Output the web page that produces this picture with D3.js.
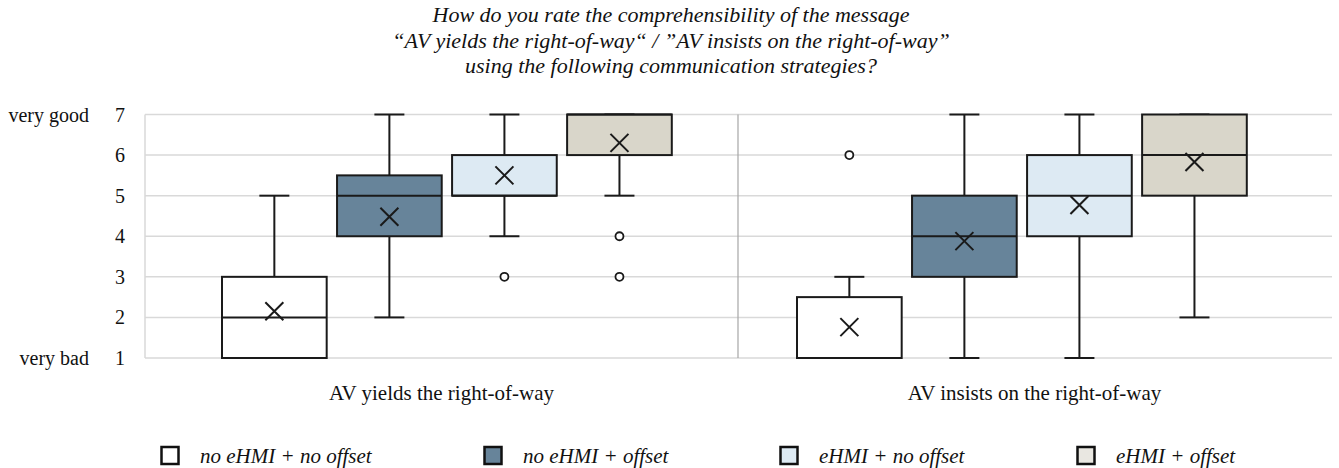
<!DOCTYPE html>
<html lang="en">
<head>
  <meta charset="UTF-8">
  <title>Comprehensibility of the message</title>
  <script src="https://d3js.org/d3.v7.min.js"></script>
  <style>
    body { margin: 0; background: #fff; }
    svg text { font-family: "Liberation Serif", "Times New Roman", serif; fill: #111; }
    .title { font-style: italic; font-size: 22px; }
    .tick-label { font-size: 20px; }
    .group-label { font-size: 21px; }
    .legend-text { font-style: italic; font-size: 21px; }
  </style>
</head>
<body>
  <svg width="1339" height="468"></svg>

  <script>
    // data
    const groups = ["AV yields the right-of-way", "AV insists on the right-of-way"];
    const strategies = ["no eHMI + no offset", "no eHMI + offset", "eHMI + no offset", "eHMI + offset"];
    const colors = ["#ffffff", "#67849a", "#ddeaf3", "#d9d6ca"];
    const legendColors = ["#ffffff", "#67849a", "#ddeaf3", "#e9e7e1"];
    const yTicks = [1, 2, 3, 4, 5, 6, 7];
    const titleLines = [
      "How do you rate the comprehensibility of the message",
      "\u201cAV yields the right-of-way\u201c / \u201dAV insists on the right-of-way\u201d",
      "using the following communication strategies?"
    ];

    // one row per box: [group, strategy, min, q1, median, q3, max, mean]
    const stats = [
      [0, 0, 1, 1, 2, 3, 5, 2.15],
      [0, 1, 2, 4, 5, 5.5, 7, 4.48],
      [0, 2, 4, 5, 5, 6, 7, 5.5],
      [0, 3, 5, 6, 7, 7, 7, 6.3],
      [1, 0, 1, 1, 1, 2.5, 3, 1.76],
      [1, 1, 1, 3, 4, 5, 7, 3.88],
      [1, 2, 1, 4, 5, 6, 7, 4.77],
      [1, 3, 2, 5, 6, 7, 7, 5.83]
    ];
    // outliers: [group, strategy, value]
    const outliers = [
      [0, 2, 3],
      [0, 3, 4],
      [0, 3, 3],
      [1, 0, 6]
    ];

    const svg = d3.select("svg");
    const plot = { left: 145, right: 1332, top: 114.5, bottom: 358 };

    const y = d3.scaleLinear().domain([1, 7]).range([plot.bottom, plot.top]);

    const x0 = d3.scaleBand()
      .domain(d3.range(groups.length))
      .range([plot.left, 1331])
      .padding(0);

    const groupShift = [5.4, -12.6];
    const x1 = g => d3.scaleBand()
      .domain(d3.range(strategies.length))
      .range([x0(g) + 67 + groupShift[g], x0(g) + x0.bandwidth() - 67 + groupShift[g]])
      .paddingInner(0.09)
      .paddingOuter(0.04);

    // grid
    svg.append("g")
      .selectAll("line")
      .data(yTicks)
      .join("line")
        .attr("x1", plot.left)
        .attr("x2", plot.right)
        .attr("y1", d => y(d))
        .attr("y2", d => y(d))
        .attr("stroke", "#d9d9d9")
        .attr("stroke-width", 1.5);

    svg.append("line")
      .attr("x1", plot.left).attr("x2", plot.left)
      .attr("y1", plot.top).attr("y2", plot.bottom)
      .attr("stroke", "#d9d9d9").attr("stroke-width", 1.5);

    svg.append("line")
      .attr("x1", x0(1)).attr("x2", x0(1))
      .attr("y1", plot.top).attr("y2", plot.bottom)
      .attr("stroke", "#a6a6a6").attr("stroke-width", 1.2);

    // y tick labels
    svg.append("g")
      .selectAll("text")
      .data(yTicks)
      .join("text")
        .attr("class", "tick-label")
        .attr("x", 120)
        .attr("y", d => y(d))
        .attr("dy", "0.35em")
        .attr("text-anchor", "middle")
        .text(d => d);

    svg.append("text").attr("class", "tick-label")
      .attr("x", 89).attr("y", y(7)).attr("dy", "0.35em")
      .attr("text-anchor", "end").text("very good");
    svg.append("text").attr("class", "tick-label")
      .attr("x", 89).attr("y", y(1)).attr("dy", "0.35em")
      .attr("text-anchor", "end").text("very bad");

    // boxes
    const boxes = svg.append("g")
      .selectAll("g")
      .data(stats)
      .join("g")
        .attr("transform", d => `translate(${x1(d[0])(d[1])},0)`);

    const bw = d => x1(d[0]).bandwidth();
    const capW = 30;

    boxes.append("line")
      .attr("x1", d => bw(d) / 2).attr("x2", d => bw(d) / 2)
      .attr("y1", d => y(d[2])).attr("y2", d => y(d[6]))
      .attr("stroke", "#1a1a1a").attr("stroke-width", 2);

    boxes.append("line")
      .attr("x1", d => bw(d) / 2 - capW / 2).attr("x2", d => bw(d) / 2 + capW / 2)
      .attr("y1", d => y(d[2])).attr("y2", d => y(d[2]))
      .attr("stroke", "#1a1a1a").attr("stroke-width", 2);

    boxes.append("line")
      .attr("x1", d => bw(d) / 2 - capW / 2).attr("x2", d => bw(d) / 2 + capW / 2)
      .attr("y1", d => y(d[6])).attr("y2", d => y(d[6]))
      .attr("stroke", "#1a1a1a").attr("stroke-width", 2);

    boxes.append("rect")
      .attr("x", 0)
      .attr("width", d => bw(d))
      .attr("y", d => y(d[5]))
      .attr("height", d => y(d[3]) - y(d[5]))
      .attr("fill", d => colors[d[1]])
      .attr("stroke", "#1a1a1a")
      .attr("stroke-width", 2);

    boxes.append("line")
      .attr("x1", 0).attr("x2", d => bw(d))
      .attr("y1", d => y(d[4])).attr("y2", d => y(d[4]))
      .attr("stroke", "#1a1a1a").attr("stroke-width", 2);

    // mean marker
    const m = 9;
    boxes.append("path")
      .attr("d", d => {
        const cx = bw(d) / 2, cy = y(d[7]);
        return `M${cx - m},${cy - m}L${cx + m},${cy + m}M${cx - m},${cy + m}L${cx + m},${cy - m}`;
      })
      .attr("stroke", "#1a1a1a")
      .attr("stroke-width", 2)
      .attr("fill", "none");

    // outliers
    svg.append("g")
      .selectAll("circle")
      .data(outliers)
      .join("circle")
        .attr("cx", d => x1(d[0])(d[1]) + x1(d[0]).bandwidth() / 2)
        .attr("cy", d => y(d[2]))
        .attr("r", 4)
        .attr("fill", "#fff")
        .attr("stroke", "#1a1a1a")
        .attr("stroke-width", 1.8);

    // group labels
    svg.append("g")
      .selectAll("text")
      .data(groups)
      .join("text")
        .attr("class", "group-label")
        .attr("x", (d, i) => x0(i) + x0.bandwidth() / 2)
        .attr("y", 400)
        .attr("text-anchor", "middle")
        .text(d => d);

    // title
    svg.append("g")
      .selectAll("text")
      .data(titleLines)
      .join("text")
        .attr("class", "title")
        .attr("x", 671)
        .attr("y", (d, i) => 22 + i * 25.5)
        .attr("text-anchor", "middle")
        .text(d => d);

    // legend
    const legendX = [160, 483, 779, 1076];
    const legend = svg.append("g")
      .selectAll("g")
      .data(strategies)
      .join("g")
        .attr("transform", (d, i) => `translate(${legendX[i]},447)`);

    legend.append("rect")
      .attr("x", 1.5).attr("y", 0)
      .attr("width", 17).attr("height", 17)
      .attr("fill", (d, i) => legendColors[i])
      .attr("stroke", "#111")
      .attr("stroke-width", 2.5);

    legend.append("text")
      .attr("class", "legend-text")
      .attr("x", 40)
      .attr("y", 16)
      .text(d => d);
  </script>
</body>
</html>
